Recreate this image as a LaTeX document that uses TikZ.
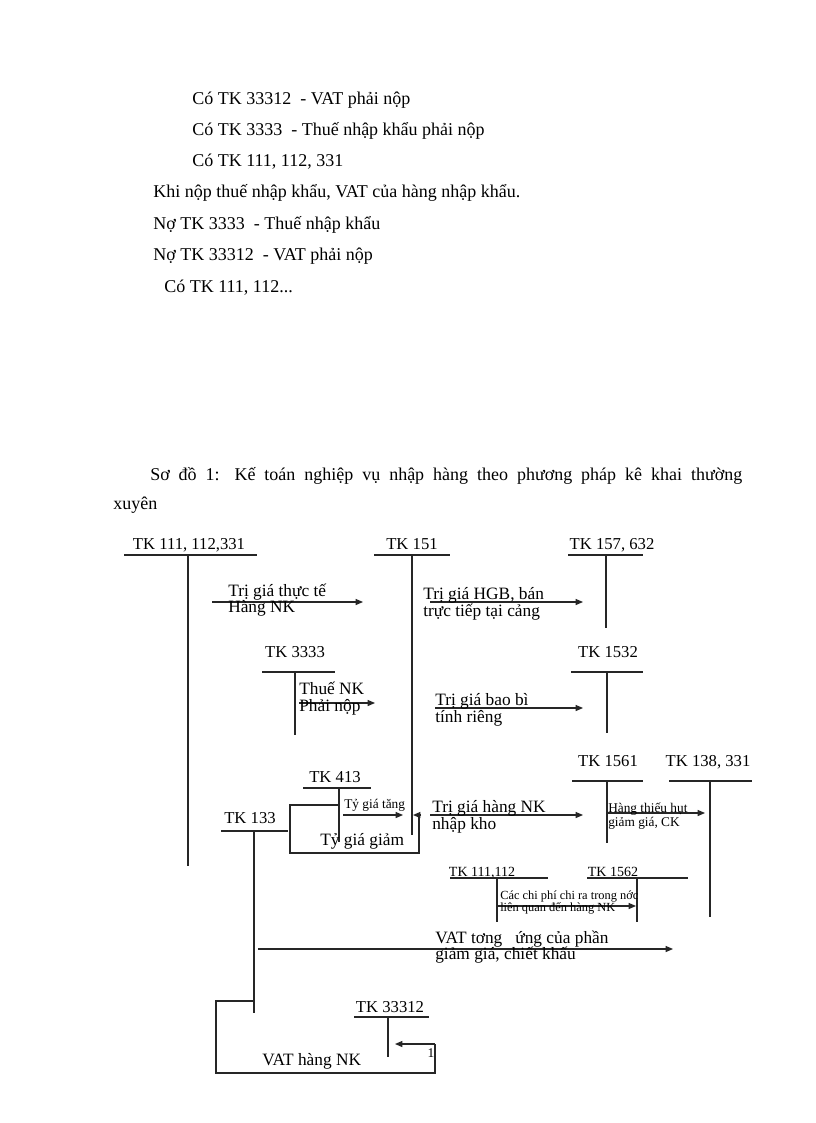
\documentclass[tikz,border=0pt]{standalone}
\usepackage{fontspec}
\setmainfont{Liberation Serif}
\usetikzlibrary{arrows.meta}
\newcommand{\tacct}[9]{%
  \node[tk] (#1) at (#3,#4) {#2};
  \coordinate (#1-l) at (#5,#7); \coordinate (#1-r) at (#6,#7);
  \coordinate (#1-t) at (#8,#7); \coordinate (#1-b) at (#8,#9);
  \draw[ln] (#1-l) -- (#1-r); \draw[ln] (#1-t) -- (#1-b);}
\begin{document}
\begin{tikzpicture}[x=0.75pt,y=-0.75pt,
  ln/.style={line width=0.8pt,black!85},
  arr/.style={ln,-{Triangle[length=5.5pt,width=4.5pt]}},
  body/.style={font=\fontsize{13.5}{16}\selectfont,anchor=base west,inner sep=0pt},
  tk/.style={font=\fontsize{12.5}{14}\selectfont,anchor=base,inner sep=0pt},
  lbl/.style={font=\fontsize{13}{14}\selectfont,anchor=base west,inner sep=0pt},
  small/.style={font=\fontsize{10}{11}\selectfont,anchor=base west,inner sep=0pt},
  tiny/.style={font=\fontsize{9.3}{10}\selectfont,anchor=base west,inner sep=0pt}]
\useasboundingbox (0,0) rectangle (816,1123);
\fill[white] (0,0) rectangle (816,1123);
% top text
\node[body] (t1) at (192,105) {Có TK 33312\ \ - VAT phải nộp};
\node[body] (t2) at (192,136) {Có TK 3333\ \ - Thuế nhập khẩu phải nộp};
\node[body] (t3) at (192,167) {Có TK 111, 112, 331};
\node[body] (t4) at (153,198) {Khi nộp thuế nhập khẩu, VAT của hàng nhập khẩu.};
\node[body] (t5) at (153,229) {Nợ TK 3333\ \ - Thuế nhập khẩu};
\node[body] (t6) at (153,260) {Nợ TK 33312\ \ - VAT phải nộp};
\node[body] (t7) at (164,292) {Có TK 111, 112...};
% caption
\node[body] (c1) at (150,480) {\makebox[444pt][s]{Sơ đồ 1: Kế toán nghiệp vụ nhập hàng theo phương pháp kê khai thường}};
\node[body] (c2) at (113,509) {xuyên};
% T-accounts
\tacct{a111}{TK 111, 112,331}{189}{549}{124}{257}{555}{188}{866}
\tacct{a151}{TK 151}{412}{549}{374}{450}{555}{412}{835}
\tacct{a157}{TK 157, 632}{612}{549}{568}{643}{555}{606}{628}
\tacct{a3333}{TK 3333}{295}{657}{262}{335}{672}{295}{735}
\tacct{a1532}{TK 1532}{608}{657}{571}{643}{672}{607}{733}
\tacct{a413}{TK 413}{335}{782}{303}{371}{788}{339}{842}
\tacct{a133}{TK 133}{250}{823}{221}{288}{831}{254}{1013}
\tacct{a1561}{TK 1561}{608}{766}{572}{643}{781}{607}{843}
\tacct{a138}{TK 138, 331}{708}{766}{669}{752}{781}{710}{917}
\begin{scope}[tk/.append style={font=\fontsize{10.5}{12}\selectfont}]
\tacct{a111b}{TK 111,112}{482}{876}{450}{548}{878}{497}{922}
\tacct{a1562}{TK 1562}{613}{876}{587}{688}{878}{637}{922}
\end{scope}
\tacct{a33312}{TK 33312}{390}{1012}{354}{429}{1017}{388}{1057}
% arrow 1
\coordinate (p1s) at (212,602); \coordinate (p1e) at (363,602);
\draw[arr] (p1s) -- (p1e);
\node[lbl] (l1a) at (228,596) {Trị giá thực tế};
\node[lbl] (l1b) at (228,612) {Hàng NK};
% arrow 2
\coordinate (p2s) at (430,602); \coordinate (p2e) at (583,602);
\draw[arr] (p2s) -- (p2e);
\node[lbl] (l2a) at (423,599) {Trị giá HGB, bán};
\node[lbl] (l2b) at (423,616) {trực tiếp tại cảng};
% arrow 3333
\coordinate (p3s) at (299,703); \coordinate (p3e) at (375,703);
\draw[arr] (p3s) -- (p3e);
\node[lbl] (l3a) at (299,694) {Thuế NK};
\node[lbl] (l3b) at (299,711) {Phải nộp};
% arrow bao bi
\coordinate (p4s) at (435,708); \coordinate (p4e) at (583,708);
\draw[arr] (p4s) -- (p4e);
\node[lbl] (l4a) at (435,705) {Trị giá bao bì};
\node[lbl] (l4b) at (435,722) {tính riêng};
% TK 413 bracket
\coordinate (b1) at (339,805); \coordinate (b2) at (290,805);
\coordinate (b3) at (290,853); \coordinate (b4) at (419,853);
\coordinate (b5) at (419,815); \coordinate (b6) at (413,815);
\draw[ln] (b1) -- (b2) -- (b3) -- (b4) -- (b5);
\draw[arr] (421,815) -- (b6);
\coordinate (p5s) at (343,815); \coordinate (p5e) at (403,815);
\draw[arr] (p5s) -- (p5e);
\node[small] (l5) at (344,808) {Tỷ giá tăng};
\node[lbl] (l6) at (320,845) {Tỷ giá giảm};
% arrow nhap kho
\coordinate (p7s) at (430,815); \coordinate (p7e) at (583,815);
\draw[arr] (p7s) -- (p7e);
\node[lbl] (l7a) at (432,812) {Trị giá hàng NK};
\node[lbl] (l7b) at (432,829) {nhập kho};
% arrow thieu hut
\coordinate (p8s) at (607,813); \coordinate (p8e) at (705,813);
\draw[arr] (p8s) -- (p8e);
\node[small] (l8a) at (608,812) {Hàng thiếu hụt};
\node[small] (l8b) at (608,826) {giảm giá, CK};
% arrow chi phi
\coordinate (p9s) at (497,906); \coordinate (p9e) at (636,906);
\draw[arr] (p9s) -- (p9e);
\node[tiny] (l9a) at (500,899) {Các chi phí chi ra trong nớc};
\node[tiny] (l9b) at (500,911) {liên quan đến hàng NK};
% VAT arrow
\coordinate (p10s) at (258,949); \coordinate (p10e) at (673,949);
\draw[arr] (p10s) -- (p10e);
\node[lbl] (l10a) at (435,943) {VAT tơng\ \ \ ứng của phần};
\node[lbl] (l10b) at (435,959) {giảm giá, chiết khấu};
% bottom bracket
\coordinate (q1) at (254,1001); \coordinate (q2) at (216,1001);
\coordinate (q3) at (216,1073); \coordinate (q4) at (435,1073);
\coordinate (q5) at (435,1044); \coordinate (q6) at (395,1044);
\draw[ln] (q1) -- (q2) -- (q3) -- (q4) -- (q5);
\draw[arr] (q5) -- (q6);
\node[small,anchor=base] (one) at (431,1057) {1};
\node[lbl] (l11) at (262,1065) {VAT hàng NK};
\end{tikzpicture}
\end{document}
